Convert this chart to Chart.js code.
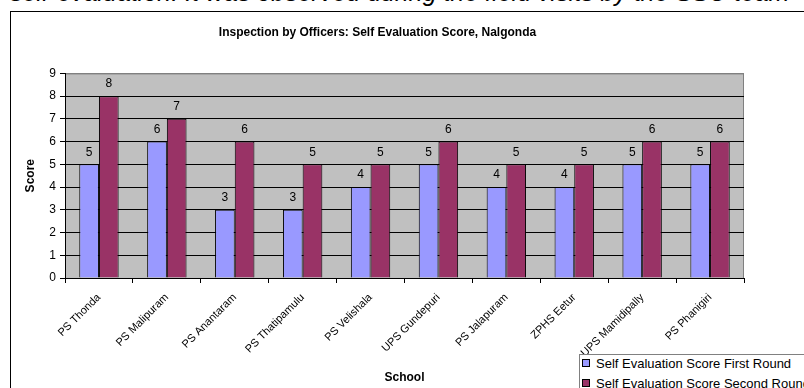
<!DOCTYPE html>
<html>
<head>
<meta charset="utf-8">
<script src="https://cdn.jsdelivr.net/npm/chart.js@4/dist/chart.umd.min.js"></script>
<style>
  html, body { margin: 0; padding: 0; background: #fff; overflow: hidden; }
  body { width: 804px; height: 388px; position: relative; font-family: Arial, "Liberation Sans", sans-serif; }
  #lead { position: absolute; left: 10px; top: -22px; font-size: 25px; font-style: italic; white-space: nowrap; color: #000; }
  #frame { position: absolute; left: 10px; top: 11px; width: 820px; height: 400px; border: 1px solid #000; box-sizing: border-box; }
  #wrap { position: absolute; left: 0; top: 0; width: 804px; height: 388px; }
  #legend { position: absolute; left: 579px; top: 354px; width: 260px; height: 50px; border: 1px solid #808080; background: #fff; font-size: 13px; }
  #legend div { position: absolute; left: 2px; white-space: nowrap; line-height: 16px; }
  #legend span { display: inline-block; width: 6px; height: 6px; border: 1px solid #000; margin-right: 6px; vertical-align: 1px; }
</style>
</head>
<body>
<div id="lead">self-evaluation. It was observed during the field visits by the SSU team</div>
<div id="frame"></div>
<div id="wrap"><canvas id="scoreChart" width="804" height="388"></canvas></div>
<div id="legend"></div>
<script>
const schools = ['PS Thonda', 'PS Malipuram', 'PS Anantaram', 'PS Thatipamulu', 'PS Velishala',
    'UPS Gundepuri', 'PS Jalapuram', 'ZPHS Eetur', 'UPS Mamidipally', 'PS Phanigiri'];
const firstRound = [5, 6, 3, 3, 4, 5, 4, 4, 5, 5];
const secondRound = [8, 7, 6, 5, 5, 6, 5, 5, 6, 6];
const seriesNames = ['Self Evaluation Score First Round', 'Self Evaluation Score Second Round'];
const seriesColors = ['#9999FF', '#993366'];
const yTicks = [0, 1, 2, 3, 4, 5, 6, 7, 8, 9];

// grey plot background with a thin frame
const plotBackground = {
    id: 'plotBackground',
    beforeDraw(chart) {
        const { ctx, chartArea: a } = chart;
        ctx.save();
        ctx.fillStyle = '#C0C0C0';
        ctx.fillRect(a.left, a.top, a.right - a.left, a.bottom - a.top);
        ctx.strokeStyle = '#808080';
        ctx.lineWidth = 1;
        ctx.strokeRect(a.left + 0.5, a.top + 0.5, a.right - a.left - 1, a.bottom - a.top);
        ctx.restore();
    }
};

// value above every bar
const barValues = {
    id: 'barValues',
    afterDatasetsDraw(chart) {
        const { ctx } = chart;
        ctx.save();
        ctx.font = '12px Arial';
        ctx.fillStyle = '#000';
        ctx.textAlign = 'center';
        ctx.textBaseline = 'middle';
        chart.data.datasets.forEach((ds, i) => {
            chart.getDatasetMeta(i).data.forEach((bar, j) => {
                ctx.fillText(ds.data[j], bar.x, bar.y - 12);
            });
        });
        ctx.restore();
    }
};

new Chart(document.getElementById('scoreChart'), {
    type: 'bar',
    data: {
        labels: schools,
        datasets: [
            { label: seriesNames[0], data: firstRound, backgroundColor: seriesColors[0], borderColor: '#000', borderWidth: 1 },
            { label: seriesNames[1], data: secondRound, backgroundColor: seriesColors[1], borderColor: '#000', borderWidth: 1 }
        ]
    },
    options: {
        responsive: false,
        animation: false,
        layout: { padding: { left: 11, right: 60, top: 11, bottom: 0 } },
        datasets: { bar: { categoryPercentage: 0.58, barPercentage: 1 } },
        plugins: {
            legend: { display: false },
            tooltip: { enabled: false },
            title: {
                display: true,
                text: 'Inspection by Officers: Self Evaluation Score, Nalgonda',
                color: '#000',
                font: { family: 'Arial', size: 12, weight: 'bold' },
                padding: { top: 14, bottom: 34 }
            }
        },
        scales: {
            x: {
                grid: { offset: true, drawOnChartArea: false, drawTicks: true, tickLength: 5, color: '#000' },
                border: { color: '#000' },
                ticks: { color: '#000', font: { family: 'Arial', size: 11 }, minRotation: 45, maxRotation: 45, padding: 8 },
                title: { display: true, text: 'School', color: '#000', font: { family: 'Arial', size: 12, weight: 'bold' }, padding: { top: 0, bottom: 3 } },
                afterFit(scale) { scale.height = 110; }
            },
            y: {
                min: 0,
                max: 9,
                afterBuildTicks(scale) { scale.ticks = yTicks.map(v => ({ value: v })); },
                grid: {
                    color: c => (c.tick && c.tick.value === 9 ? '#808080' : '#000'),
                    tickColor: '#000',
                    tickLength: 5
                },
                border: { color: '#000' },
                ticks: { color: '#000', font: { family: 'Arial', size: 12 }, padding: 4 },
                title: { display: true, text: 'Score', color: '#000', font: { family: 'Arial', size: 12, weight: 'bold' }, padding: { top: 12, bottom: 0 } },
                afterFit(scale) { scale.width = 54; }
            }
        }
    },
    plugins: [plotBackground, barValues]
});

const legendBox = document.getElementById('legend');
seriesNames.forEach((name, i) => {
    const row = document.createElement('div');
    row.style.top = (i * 20 + 1) + 'px';
    row.innerHTML = '<span style="background:' + seriesColors[i] + '"></span>' + name;
    legendBox.appendChild(row);
});
</script>
</body>
</html>
